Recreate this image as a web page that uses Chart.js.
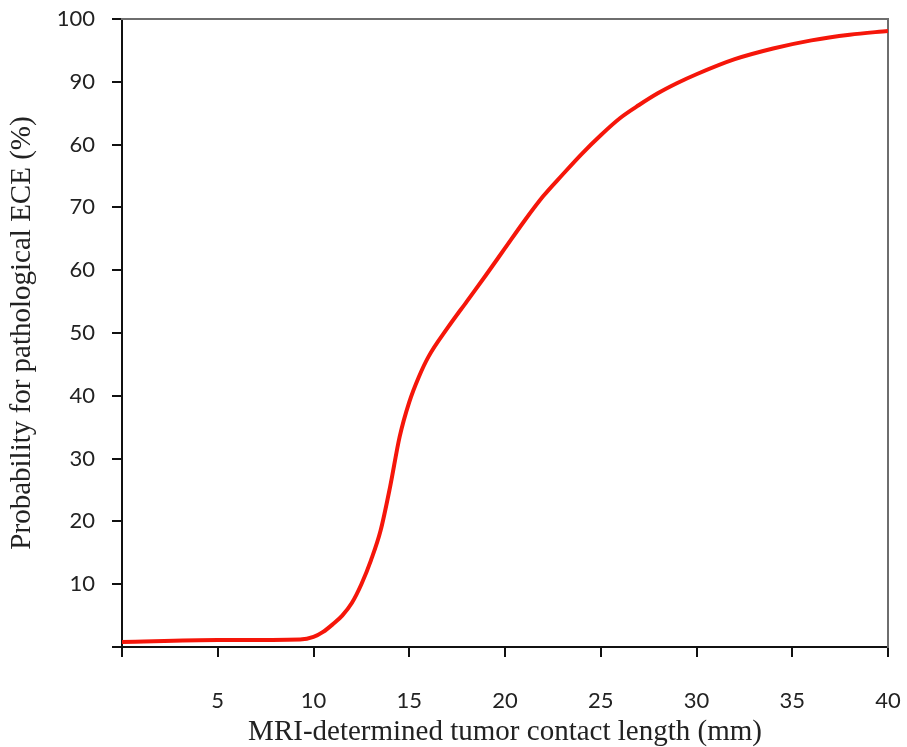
<!DOCTYPE html>
<html>
<head>
<meta charset="utf-8">
<title>Probability for pathological ECE</title>
<script src="https://cdn.jsdelivr.net/npm/chart.js@4.4.1/dist/chart.umd.min.js"></script>
<style>
  html, body { margin: 0; padding: 0; background: #fff; }
  #wrap { width: 907px; height: 747px; }
</style>
</head>
<body>
<div id="wrap"><canvas id="eceChart" width="907" height="747"></canvas></div>
<script>
// tumor contact length (mm) and probability (%)
const contactLength = [0, 5, 9.3, 10, 10.5, 11, 11.5, 12, 12.5, 13, 13.5, 14, 14.5, 15, 15.5, 16, 17, 18, 19, 20, 21, 22, 23, 24, 25, 26, 27, 28, 29, 30, 32, 34, 36, 38, 40];
const probability = [0.8, 1.1, 1.2, 1.6, 2.4, 3.6, 5.0, 7.0, 10.0, 13.8, 18.5, 25.5, 33.5, 39.0, 43.0, 46.2, 50.8, 55.0, 59.2, 63.5, 67.8, 71.8, 75.2, 78.5, 81.5, 84.2, 86.3, 88.2, 89.8, 91.2, 93.6, 95.3, 96.6, 97.5, 98.1];

// tick labels as printed in the figure (value 0 has no label)
const xTickLabels = ["", "5", "10", "15", "20", "25", "30", "35", "40"];
const yTickLabels = ["", "10", "20", "30", "40", "50", "60", "70", "60", "90", "100"];

const tickFont = { family: "Lato", size: 22 };
const titleFont = { family: "Liberation Serif", size: 29, lineHeight: 1 };

const points = contactLength.map((x, i) => ({ x: x, y: probability[i] }));

// keep the plot box fixed: no extra room for labels hanging past the ends
function noOverhang(scale) {
  scale.paddingLeft = 0;
  scale.paddingRight = 0;
  scale.paddingTop = 0;
  scale.paddingBottom = 0;
}

const ctx = document.getElementById("eceChart").getContext("2d");
new Chart(ctx, {
  type: "line",
  data: {
    datasets: [
      {
        label: "Probability",
        data: points,
        borderColor: "rgb(245, 22, 10)",
        borderWidth: 4,
        pointRadius: 0,
        fill: false,
        cubicInterpolationMode: "monotone",
      },
    ],
  },
  options: {
    responsive: false,
    animation: false,
    layout: { padding: 0 },
    plugins: {
      legend: { display: false },
      tooltip: { enabled: false },
    },
    scales: {
      x: {
        type: "linear",
        position: "bottom",
        min: 0,
        max: 40,
        afterFit: (scale) => { scale.height = 100; noOverhang(scale); },
        ticks: {
          stepSize: 5,
          padding: 31,
          color: "#222",
          font: tickFont,
          maxRotation: 0,
          callback: (value) => xTickLabels[value / 5],
        },
        grid: { drawOnChartArea: false, drawTicks: true, tickLength: 10, color: "#111", lineWidth: 2 },
        border: { color: "#111", width: 2 },
        title: {
          display: true,
          text: "MRI-determined tumor contact length (mm)",
          color: "#222",
          font: titleFont,
          padding: 0,
        },
      },
      y: {
        type: "linear",
        position: "left",
        min: 0,
        max: 100,
        afterFit: (scale) => { scale.width = 122; noOverhang(scale); },
        ticks: {
          stepSize: 10,
          padding: 17,
          color: "#222",
          font: tickFont,
          callback: (value) => yTickLabels[value / 10],
        },
        grid: { drawOnChartArea: false, drawTicks: true, tickLength: 10, color: "#111", lineWidth: 2 },
        border: { color: "#111", width: 2 },
        title: {
          display: true,
          text: "Probability for pathological ECE (%)",
          color: "#222",
          font: titleFont,
          padding: { top: 8, bottom: 0 },
        },
      },
      // plain frame lines on top and right
      xTop: {
        type: "linear",
        position: "top",
        afterFit: (scale) => { scale.height = 19; noOverhang(scale); },
        ticks: { display: false },
        grid: { display: false },
        border: { color: "#6e6e6e", width: 2 },
      },
      yRight: {
        type: "linear",
        position: "right",
        afterFit: (scale) => { scale.width = 19; noOverhang(scale); },
        ticks: { display: false },
        grid: { display: false },
        border: { color: "#6e6e6e", width: 2 },
      },
    },
  },
});
</script>
</body>
</html>
